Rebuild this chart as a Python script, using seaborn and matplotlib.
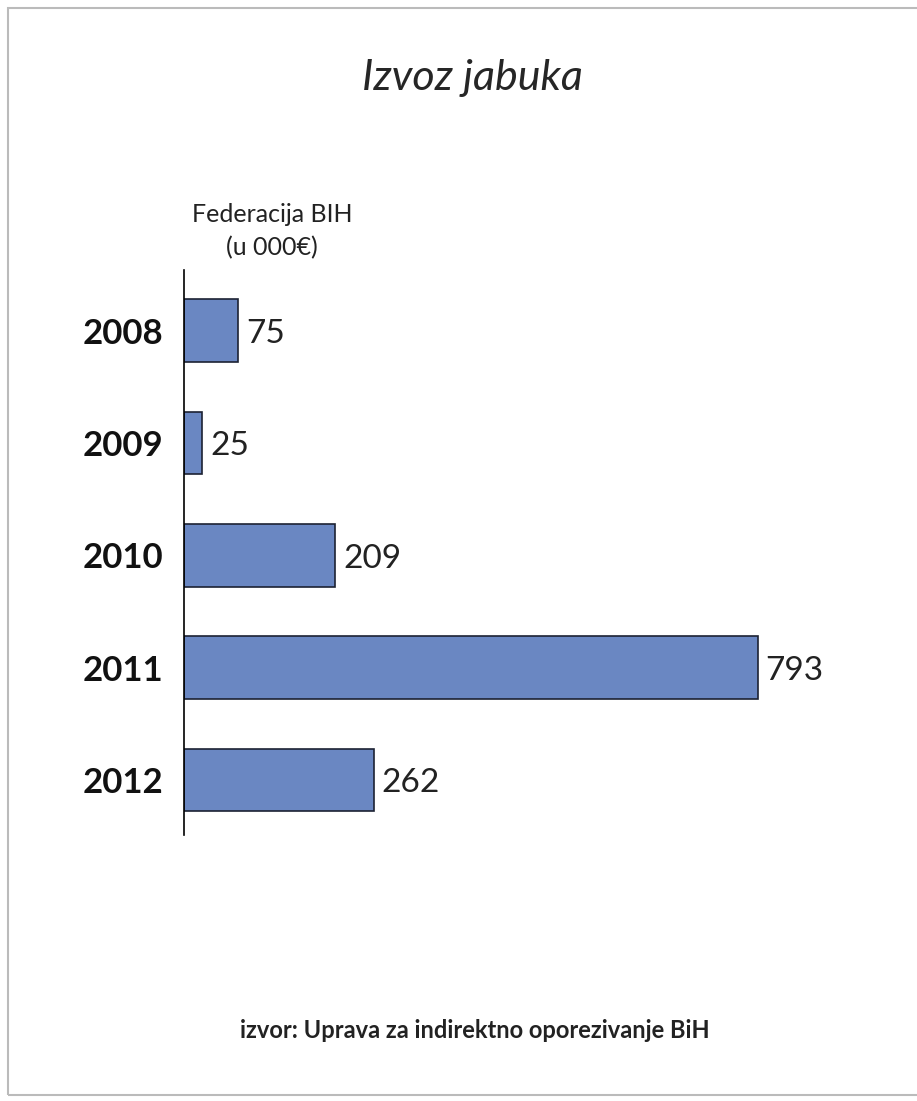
#!/usr/bin/env python3

import pandas as pd
import matplotlib.pyplot as plt
import seaborn as sns
from matplotlib.patches import Rectangle

years = ["2008", "2009", "2010", "2011", "2012"]
values = [75, 25, 209, 793, 262]

title = "Izvoz jabuka"
axis_note = "Federacija BIH\n(u 000€)"
source = "izvor: Uprava za indirektno oporezivanje BiH"

df = pd.DataFrame({"year": years, "value": values})

sns.set_style("white")
plt.rcParams["font.family"] = ["Lato", "DejaVu Sans"]

fig = plt.figure(figsize=(9.17, 11.01), dpi=100)
ax = fig.add_axes([0.2007, 0.2416, 0.72, 0.5132])

sns.barplot(
    data=df, x="value", y="year", ax=ax,
    color="#6a87c2", edgecolor="#1c2233", linewidth=1.2,
    width=0.56, saturation=1,
)

# value labels next to bars
for i, v in enumerate(values):
    ax.text(v + 11, i + 0.03, str(v), va="center", ha="left", fontsize=24, color="#222222")

ax.set_xlim(0, 913)
ax.set_ylim(4.49, -0.54)
ax.set_xlabel("")
ax.set_ylabel("")
ax.set_xticks([])
for s in ["top", "right", "bottom"]:
    ax.spines[s].set_visible(False)
ax.spines["left"].set_color("black")
ax.spines["left"].set_linewidth(1.2)
ax.tick_params(axis="y", length=0, pad=15)
for lbl in ax.get_yticklabels():
    lbl.set_fontweight("bold")
    lbl.set_fontsize(25)
    lbl.set_color("#111111")
ax.patch.set_alpha(0)

fig.text(0.515, 0.929, title, ha="center", va="center", fontsize=31, style="italic")
fig.text(0.297, 0.790, axis_note, ha="center", va="center", fontsize=18,
         linespacing=1.55, color="#222222")
fig.text(0.518, 0.064, source, ha="center", va="center", fontsize=17,
         fontweight="bold", color="#222222")

fig.patches.append(Rectangle((8 / 917, 6 / 1101), 1.0, 1 - 14 / 1101,
                             transform=fig.transFigure, fill=False,
                             edgecolor="#bbbbbb", linewidth=1.5))

fig.savefig("out.png", dpi=100)
